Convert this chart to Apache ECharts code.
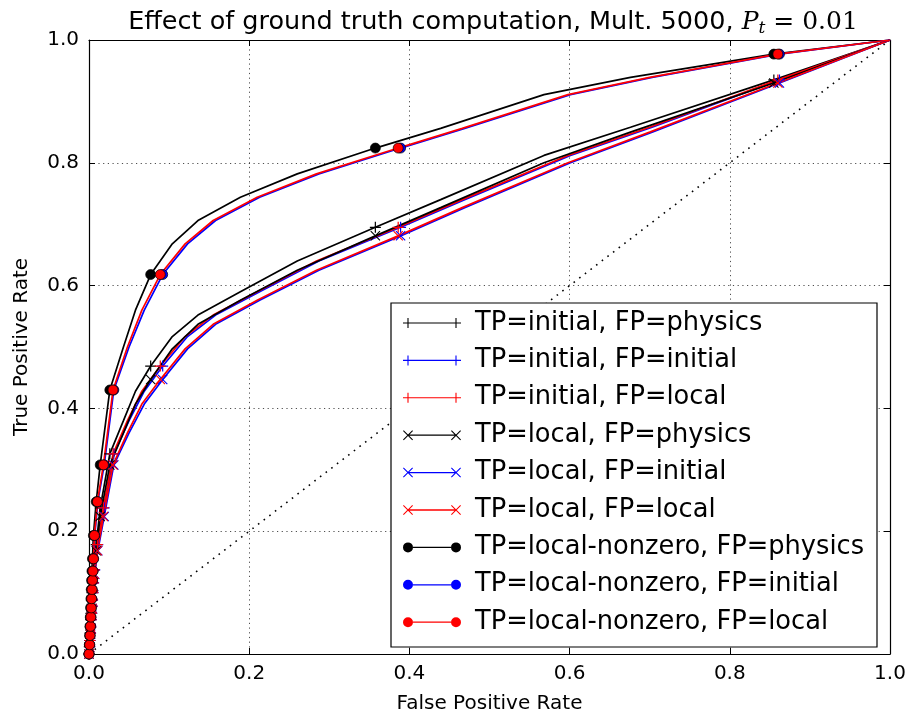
<!DOCTYPE html>
<html><head><meta charset="utf-8">
<script src="https://cdn.jsdelivr.net/npm/echarts@6.0.0/dist/echarts.min.js"></script>
<style>html,body{margin:0;padding:0;background:#fff}#c{width:910px;height:719px}</style>
</head><body><div id="c"></div>
<script>
// ---- data: one entry per threshold ----
const fprPhysics = [0, 0.0004,0.0008,0.0012,0.0016,0.002,0.0024,0.0028,0.0032,0.0037,0.0043, 0.0055,0.009,0.014,0.026, 0.043,0.058, 0.077, 0.104,0.136,0.189,0.26, 0.3575, 0.439,0.568,0.676, 0.855, 1];
const fprLocal   = [0, 0.0008,0.0013,0.0018,0.0023,0.0028,0.0033,0.0038,0.0043,0.0049,0.0056, 0.0068,0.0105,0.018,0.030, 0.048,0.066, 0.089, 0.12,0.155,0.21,0.284, 0.386, 0.466,0.598,0.70, 0.86, 1];
const fprInitial = [0, 0.001,0.0015,0.002,0.0025,0.003,0.0035,0.004,0.0045,0.0051,0.0058, 0.0072,0.011,0.019,0.031, 0.050,0.069, 0.092, 0.123,0.158,0.213,0.287, 0.389, 0.469,0.601,0.703, 0.862, 1];
const tprInitial = [0, 0.012,0.022,0.034,0.044,0.056,0.066,0.078,0.088,0.1,0.116, 0.137,0.178,0.238,0.326, 0.38,0.428, 0.469, 0.517,0.552,0.59,0.64, 0.695, 0.74,0.812,0.858, 0.935, 1];
const tprLocal   = [0, 0.011,0.021,0.032,0.042,0.053,0.063,0.074,0.084,0.095,0.11, 0.13,0.168,0.224,0.308, 0.36,0.407, 0.447, 0.497,0.537,0.576,0.625, 0.681, 0.727,0.80,0.85, 0.93, 1];
const tprNonzero = [0, 0.015,0.03,0.045,0.06,0.075,0.09,0.105,0.12,0.135,0.155, 0.193,0.248,0.308,0.43, 0.50,0.56, 0.618, 0.668,0.706,0.744,0.782, 0.824, 0.856,0.911,0.939, 0.977, 1];
const markerFlag = [1, 1,1,1,1,1,1,1,1,1,1, 1,1,1,1, 0,0, 1, 0,0,0,0, 1, 0,0,0, 1, 0];
const chanceLine = [[0,0],[1,1]];
const tickValues = [0, 0.2, 0.4, 0.6, 0.8, 1.0];

const tpDefs = {initial: tprInitial, local: tprLocal, 'local-nonzero': tprNonzero};
const fpDefs = {physics: fprPhysics, initial: fprInitial, local: fprLocal};
const seriesDefs = [
  ['initial','physics','plus'],['initial','initial','plus'],['initial','local','plus'],
  ['local','physics','x'],['local','initial','x'],['local','local','x'],
  ['local-nonzero','physics','circle'],['local-nonzero','initial','circle'],['local-nonzero','local','circle']
];
const colorOf = {physics:'#000000', initial:'#0000ff', local:'#ff0000'};

// ---- styles ----
const PLUS = 'path://M0,4.45H10V5.55H0Z M4.45,0H5.55V10H4.45Z';
const XMARK = 'path://M0.75,0L5,4.25L9.25,0L10,0.75L5.75,5L10,9.25L9.25,10L5,5.75L0.75,10L0,9.25L4.25,5L0,0.75Z';
function xAt(cx){
  const p=[[0.75,0],[5,4.25],[9.25,0],[10,0.75],[5.75,5],[10,9.25],[9.25,10],[5,5.75],[0.75,10],[0,9.25],[4.25,5],[0,0.75]];
  return 'M'+p.map(q=>(q[0]+cx-5)+','+q[1]).join('L')+'Z';
}
const ICON = {
  plus: 'path://M0,4.45H58V5.55H0Z M4.45,0H5.55V10H4.45Z M52.45,0H53.55V10H52.45Z',
  x: 'path://M5,4.35H53V5.65H5Z ' + xAt(5) + ' ' + xAt(53),
  circle: 'path://M10,4.35H48V5.65H10Z M0,5A5,5 0 1,1 10,5A5,5 0 1,1 0,5Z M48,5A5,5 0 1,1 58,5A5,5 0 1,1 48,5Z'
};
const SYM = {plus:[PLUS,11], x:[XMARK,10], circle:['circle',10]};

const series = [{
  type:'line', data: chanceLine, symbol:'none', silent:true,
  lineStyle:{color:'#000', width:1.6, type:[1.6,5.5]}, z:1
}];
const legendData = [];
seriesDefs.forEach(([tp, fp, mk]) => {
  const xs = fpDefs[fp], ys = tpDefs[tp], c = colorOf[fp];
  const name = 'TP=' + tp + ', FP=' + fp;
  const data = xs.map((x,i) => markerFlag[i] ? {value:[x, ys[i]]} : {value:[x, ys[i]], symbol:'none'});
  series.push({
    name, type:'line', data, symbol: SYM[mk][0], symbolSize: SYM[mk][1], showSymbol:true,
    lineStyle:{color:c, width:1.7},
    itemStyle:{color:c, borderColor: mk==='circle' ? '#000' : c, borderWidth: mk==='circle' ? 0.7 : 0},
    emphasis:{disabled:true}, z:2
  });
  legendData.push({name, icon: ICON[mk], itemStyle:{color:c, borderWidth:0}});
});

const axisCommon = {
  type:'value', min:0, max:1, interval:0.2,
  axisLine:{show:true, onZero:false, lineStyle:{color:'#000', width:1.2}},
  axisTick:{show:true, inside:true, length:6, lineStyle:{color:'#000', width:1}},
};
const fmt = v => tickValues.indexOf(Math.round(v*10)/10) >= 0 ? v.toFixed(1) : '';

const chart = echarts.init(document.getElementById('c'), null, {renderer:'canvas'});
chart.setOption({
  animation:false,
  backgroundColor:'#fff',
  title:{
    text:'{a|Effect of ground truth computation, Mult. 5000, }{p|P}{s|t}{b| = 0.01}',
    left:488, top:3, textAlign:'center',
    textStyle:{fontWeight:'normal', rich:{
      a:{fontFamily:'DejaVu Sans', fontWeight:'normal', fontSize:25.5, color:'#000'},
      p:{fontFamily:'DejaVu Serif', fontStyle:'italic', fontWeight:'normal', fontSize:25, color:'#000'},
      s:{fontFamily:'DejaVu Serif', fontStyle:'italic', fontWeight:'normal', fontSize:17, color:'#000', padding:[12,0,0,0]},
      b:{fontFamily:'DejaVu Serif', fontWeight:'normal', fontSize:25, color:'#000'}
    }}
  },
  grid:{left:89, right:20, top:40, bottom:60, show:false},
  xAxis:[
    Object.assign({}, axisCommon, {position:'bottom',
      name:'False Positive Rate', nameLocation:'middle', nameGap:40,
      nameTextStyle:{fontFamily:'DejaVu Sans', fontSize:20, color:'#000'},
      axisLabel:{fontFamily:'DejaVu Sans', fontSize:20, color:'#000', margin:10, formatter:fmt},
      splitLine:{show:true, lineStyle:{color:'#222', width:0.8, type:[1.2,3.5]}}}),
    Object.assign({}, axisCommon, {position:'top', axisLabel:{show:false}, splitLine:{show:false}})
  ],
  yAxis:[
    Object.assign({}, axisCommon, {position:'left',
      name:'True Positive Rate', nameLocation:'middle', nameGap:57,
      nameTextStyle:{fontFamily:'DejaVu Sans', fontSize:20, color:'#000'},
      axisLabel:{fontFamily:'DejaVu Sans', fontSize:20, color:'#000', margin:10, formatter:fmt},
      splitLine:{show:true, lineStyle:{color:'#222', width:0.8, type:[1.2,3.5]}}}),
    Object.assign({}, axisCommon, {position:'right', axisLabel:{show:false}, splitLine:{show:false}})
  ],
  legend:{
    orient:'vertical', left:403, top:310, padding:0, itemGap:11.4,
    itemWidth:58, itemHeight:10, selectedMode:false, z:6,
    textStyle:{fontFamily:'DejaVu Sans', fontSize:25.7, color:'#000', lineHeight:26, padding:[0,0,0,9]},
    itemStyle:{borderWidth:0},
    data: legendData
  },
  graphic:[{
    type:'rect', z:5, silent:true,
    shape:{x:391, y:303, width:486, height:344},
    style:{fill:'#fff', stroke:'#000', lineWidth:1.2}
  }],
  series
});
</script>
</body></html>
